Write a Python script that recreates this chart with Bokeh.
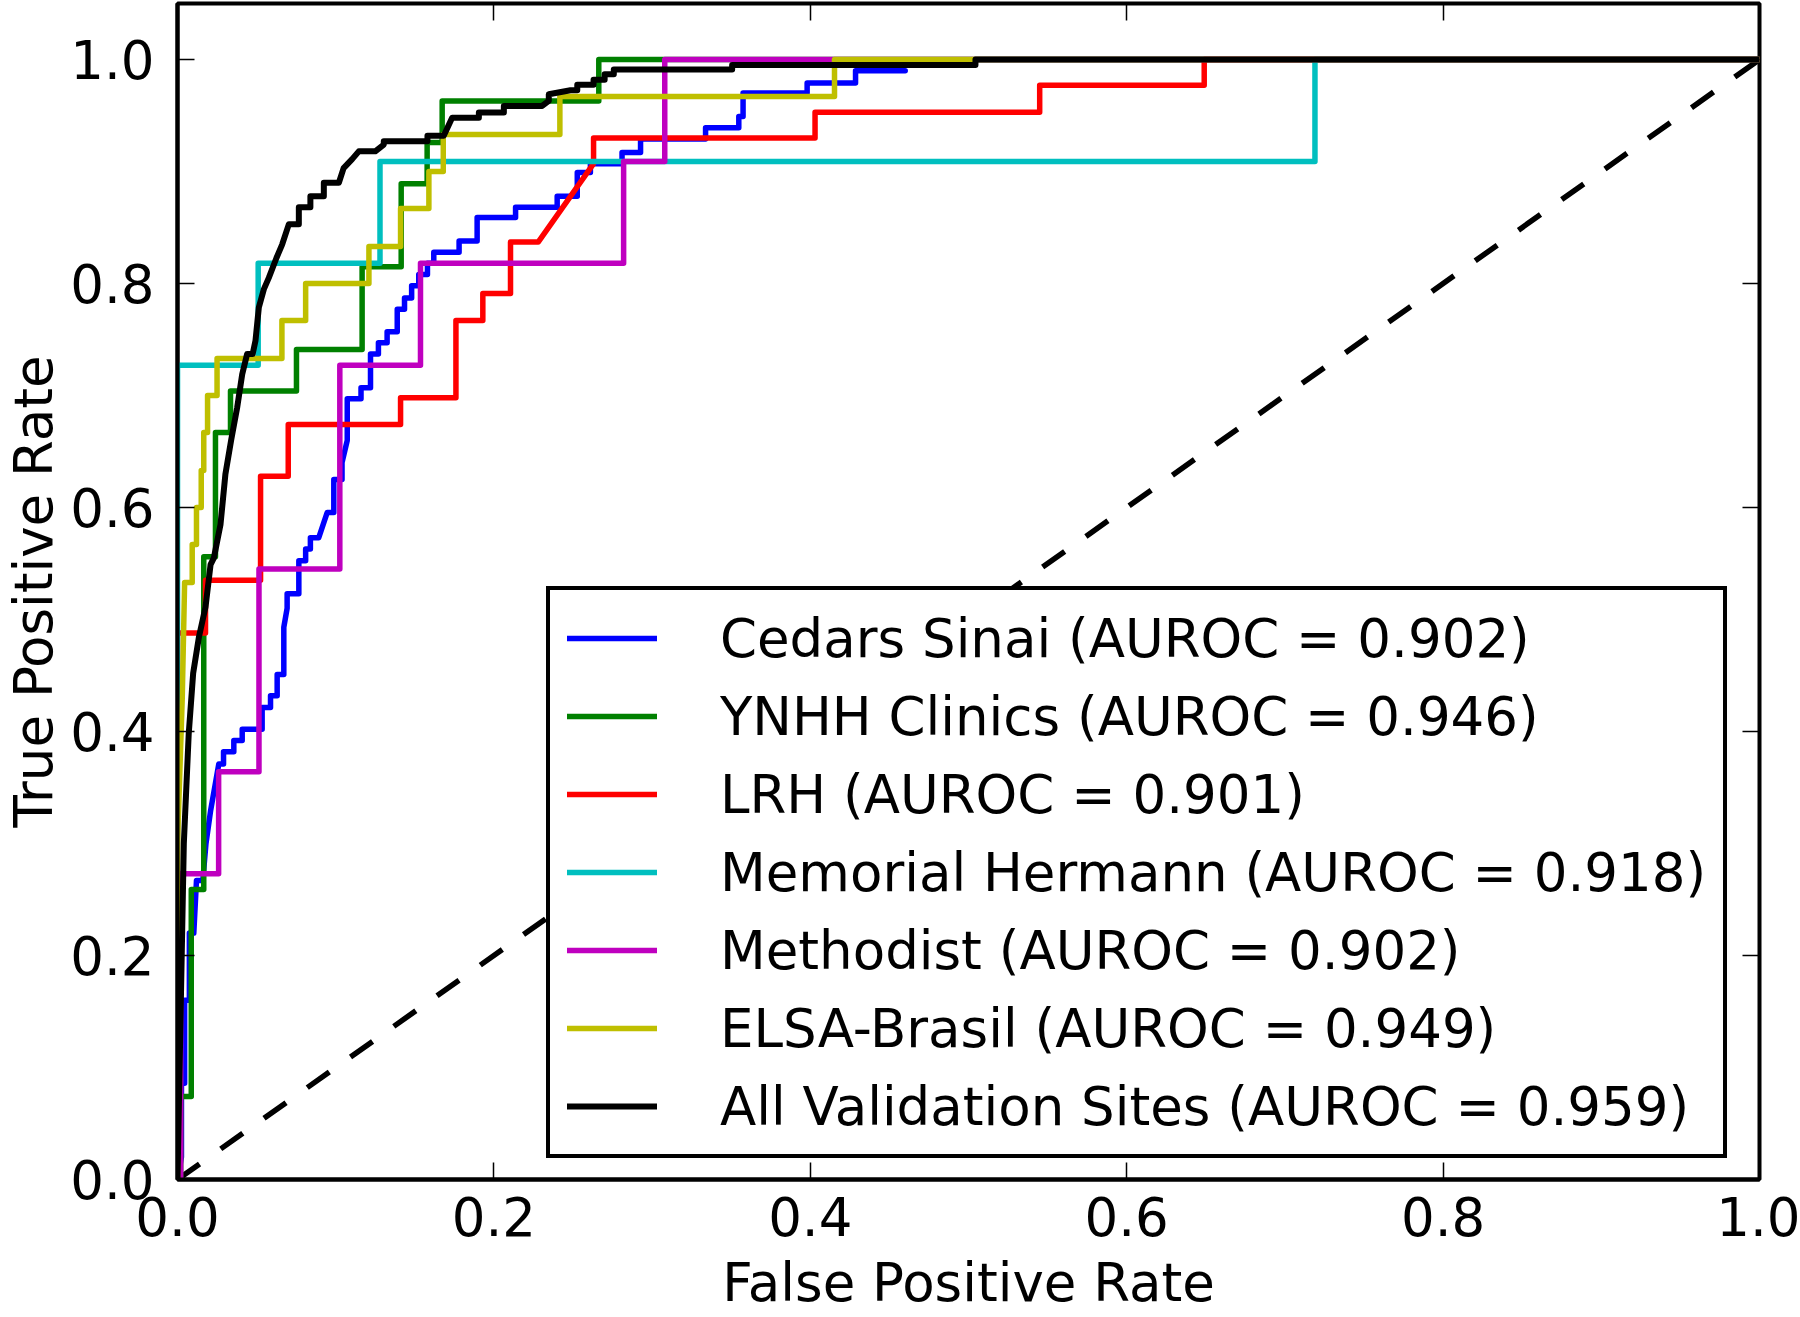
from bokeh.plotting import figure
from bokeh.models import Range1d, LinearAxis, FixedTicker, Legend, LegendItem, PrintfTickFormatter
from bokeh.embed import file_html
from bokeh.resources import INLINE

# ---------------- data ----------------
site_names = ["Cedars Sinai", "YNHH Clinics", "LRH", "Memorial Hermann",
              "Methodist", "ELSA-Brasil", "All Validation Sites"]
site_auroc = [0.902, 0.946, 0.901, 0.918, 0.902, 0.949, 0.959]

cedars_fpr = [0, 0.0025, 0.0025, 0.0045, 0.0045, 0.0075, 0.0075, 0.0103, 0.012, 0.016, 0.018, 0.021,
              0.0235, 0.0261, 0.0291, 0.0291, 0.0356, 0.0356, 0.0409, 0.0409, 0.0535, 0.0535, 0.0588,
              0.0588, 0.063, 0.063, 0.0672, 0.0672, 0.0693, 0.0693, 0.0767, 0.0767, 0.081, 0.081, 0.084,
              0.084, 0.0893, 0.0946, 0.0988, 0.0988, 0.104, 0.104, 0.1073, 0.1073, 0.116, 0.116, 0.122,
              0.122, 0.127, 0.127, 0.1325, 0.1325, 0.1389, 0.1389, 0.1435, 0.1435, 0.148, 0.148, 0.1525,
              0.1525, 0.158, 0.158, 0.162, 0.162, 0.178, 0.178, 0.1894, 0.1894, 0.2137, 0.2137, 0.24,
              0.24, 0.2527, 0.2527, 0.261, 0.261, 0.281, 0.281, 0.2927, 0.2927, 0.3338, 0.3338, 0.3548,
              0.3548, 0.3575, 0.3575, 0.398, 0.398, 0.4286, 0.4286, 0.46]
cedars_tpr = [0, 0.02, 0.086, 0.086, 0.16, 0.16, 0.22, 0.22, 0.267, 0.267, 0.30, 0.33,
              0.35, 0.371, 0.371, 0.382, 0.382, 0.392, 0.392, 0.402, 0.402, 0.4215, 0.4215,
              0.432, 0.432, 0.451, 0.451, 0.493, 0.51, 0.523, 0.523, 0.5524, 0.5524, 0.563, 0.563,
              0.573, 0.573, 0.5955, 0.5955, 0.625, 0.625, 0.64, 0.66, 0.697, 0.697, 0.707, 0.707,
              0.737, 0.737, 0.747, 0.747, 0.757, 0.757, 0.777, 0.777, 0.787, 0.787, 0.798, 0.798,
              0.808, 0.808, 0.818, 0.818, 0.828, 0.828, 0.838, 0.838, 0.859, 0.859, 0.868, 0.868,
              0.878, 0.878, 0.899, 0.899, 0.907, 0.907, 0.917, 0.917, 0.929, 0.929, 0.939, 0.939,
              0.949, 0.949, 0.970, 0.970, 0.979, 0.979, 0.99, 0.99]

ynhh_fpr = [0, 0.002, 0.002, 0.0087, 0.0087, 0.0166, 0.0166, 0.024, 0.024, 0.0335, 0.0335, 0.0752,
            0.0752, 0.1167, 0.1167, 0.1414, 0.1414, 0.1578, 0.1578, 0.1673, 0.1673, 0.2663, 0.2663, 1.0]
ynhh_tpr = [0, 0, 0.074, 0.074, 0.259, 0.259, 0.556, 0.556, 0.667, 0.667, 0.704, 0.704,
            0.741, 0.741, 0.815, 0.815, 0.889, 0.889, 0.926, 0.926, 0.963, 0.963, 1.0, 1.0]

lrh_fpr = [0, 0, 0.0177, 0.0177, 0.0525, 0.0525, 0.0700, 0.0700, 0.141, 0.141, 0.176, 0.176, 0.193,
           0.193, 0.2105, 0.2105, 0.228, 0.263, 0.263, 0.403, 0.403, 0.545, 0.545, 0.649, 0.649, 1.0]
lrh_tpr = [0, 0.488, 0.488, 0.535, 0.535, 0.628, 0.628, 0.674, 0.674, 0.698, 0.698, 0.767, 0.767,
           0.791, 0.791, 0.837, 0.837, 0.907, 0.930, 0.930, 0.953, 0.953, 0.977, 0.977, 1.0, 1.0]

memorial_fpr = [0, 0, 0.051, 0.051, 0.128, 0.128, 0.719, 0.719, 1.0]
memorial_tpr = [0, 0.727, 0.727, 0.818, 0.818, 0.909, 0.909, 1.0, 1.0]

methodist_fpr = [0, 0.002, 0.002, 0.026, 0.026, 0.0515, 0.0515, 0.1026, 0.1026, 0.1536, 0.1536,
                 0.282, 0.282, 0.308, 0.308, 1.0]
methodist_tpr = [0, 0, 0.273, 0.273, 0.364, 0.364, 0.545, 0.545, 0.727, 0.727, 0.818,
                 0.818, 0.909, 0.909, 1.0, 1.0]

elsa_fpr = [0, 0, 0.003, 0.0045, 0.0093, 0.0093, 0.012, 0.012, 0.015, 0.015, 0.0166, 0.0166, 0.019,
            0.019, 0.025, 0.025, 0.066, 0.066, 0.081, 0.081, 0.121, 0.121, 0.141, 0.141, 0.1589,
            0.1589, 0.168, 0.168, 0.2417, 0.2417, 0.4153, 0.4153, 1.0]
elsa_tpr = [0, 0.3, 0.43, 0.533, 0.533, 0.567, 0.567, 0.6, 0.6, 0.633, 0.633, 0.667, 0.667,
            0.7, 0.7, 0.733, 0.733, 0.767, 0.767, 0.8, 0.8, 0.833, 0.833, 0.867, 0.867,
            0.9, 0.9, 0.933, 0.933, 0.967, 0.967, 1.0, 1.0]

all_fpr = [0, 0.002, 0.004, 0.0071, 0.0099, 0.0135, 0.0177, 0.0209, 0.023, 0.0272, 0.0303, 0.0339,
           0.0377, 0.0409, 0.044, 0.0475, 0.0493, 0.0514, 0.0546, 0.0577, 0.0626, 0.0662, 0.0704,
           0.0767, 0.0767, 0.084, 0.084, 0.0925, 0.0925, 0.102, 0.105, 0.1104, 0.1146, 0.125,
           0.1304, 0.1304, 0.158, 0.158, 0.1683, 0.1736, 0.1905, 0.1905, 0.2063, 0.2063, 0.2305,
           0.2347, 0.2347, 0.2484, 0.2527, 0.2527, 0.263, 0.263, 0.27, 0.27, 0.2758, 0.2758,
           0.3506, 0.3506, 0.5044, 0.5044, 1.0]
all_tpr = [0, 0.15, 0.30, 0.398, 0.452, 0.484, 0.511, 0.549, 0.555, 0.585, 0.63, 0.66,
           0.689, 0.719, 0.737, 0.737, 0.749, 0.7785, 0.795, 0.805, 0.823, 0.835, 0.853,
           0.853, 0.868, 0.868, 0.878, 0.878, 0.89, 0.89, 0.903, 0.911, 0.918, 0.918,
           0.924, 0.927, 0.927, 0.932, 0.932, 0.948, 0.948, 0.9526, 0.9526, 0.9585, 0.9585,
           0.963, 0.969, 0.9725, 0.9725, 0.9775, 0.9775, 0.982, 0.982, 0.9868, 0.9868, 0.991,
           0.991, 0.995, 0.995, 1.0, 1.0]

chance_x = [0.0, 1.0]
chance_y = [0.0, 1.0]

x_ticks = [0.0, 0.2, 0.4, 0.6, 0.8, 1.0]
y_ticks = [0.0, 0.2, 0.4, 0.6, 0.8, 1.0]

series_fpr = [cedars_fpr, ynhh_fpr, lrh_fpr, memorial_fpr, methodist_fpr, elsa_fpr, all_fpr]
series_tpr = [cedars_tpr, ynhh_tpr, lrh_tpr, memorial_tpr, methodist_tpr, elsa_tpr, all_tpr]
colors = ["#0000ff", "#008000", "#ff0000", "#00bfbf", "#bf00bf", "#bfbf00", "#000000"]
widths = [5.5, 5.5, 5.5, 5.5, 5.5, 5.5, 6.0]

# ---------------- figure ----------------
FONT = "DejaVu Sans"
FS = "53px"

p = figure(width=1800, height=1317, output_backend="svg", toolbar_location=None,
           x_range=Range1d(0, 1), y_range=Range1d(0, 1.05),
           x_axis_label="False Positive Rate", y_axis_label="True Positive Rate")
p.min_border_left = 177
p.min_border_right = 41
p.min_border_top = 3
p.min_border_bottom = 138
p.background_fill_color = "white"
p.border_fill_color = "white"
p.outline_line_color = "black"
p.outline_line_width = 4
p.outline_line_alpha = 1.0
p.xgrid.visible = False
p.ygrid.visible = False

for ax, ticks in ((p.xaxis[0], x_ticks), (p.yaxis[0], y_ticks)):
    ax.ticker = FixedTicker(ticks=ticks)
    ax.formatter = PrintfTickFormatter(format="%.1f")
    ax.major_tick_in = 17
    ax.major_tick_out = 0
    ax.minor_tick_line_color = None
    ax.major_tick_line_width = 1.5
    ax.axis_line_width = 4
    ax.major_label_text_font = FONT
    ax.major_label_text_font_size = FS
    ax.major_label_text_color = "black"
    ax.axis_label_text_font = FONT
    ax.axis_label_text_font_size = FS
    ax.axis_label_text_font_style = "normal"
    ax.axis_label_text_color = "black"

p.xaxis[0].major_label_standoff = 17
p.xaxis[0].axis_label_standoff = 13
p.yaxis[0].major_label_standoff = 23
p.yaxis[0].axis_label_standoff = 3

# mirrored inward ticks on the top and right spines
top_axis = LinearAxis(ticker=FixedTicker(ticks=x_ticks), major_tick_in=17, major_tick_out=0,
                      major_tick_line_width=1.5, minor_tick_line_color=None,
                      major_label_text_font_size="1px", major_label_text_color=None,
                      major_label_standoff=0, axis_line_color=None)
right_axis = LinearAxis(ticker=FixedTicker(ticks=y_ticks), major_tick_in=17, major_tick_out=0,
                        major_tick_line_width=1.5, minor_tick_line_color=None,
                        major_label_text_font_size="1px", major_label_text_color=None,
                        major_label_standoff=0, axis_line_color=None)
p.add_layout(top_axis, "above")
p.add_layout(right_axis, "right")

p.line(chance_x, chance_y, line_color="black", line_width=5.5, line_dash="27 26")

items = []
for name, auc, fx, ty, col, lw in zip(site_names, site_auroc, series_fpr, series_tpr, colors, widths):
    r = p.line(fx, ty, line_color=col, line_width=lw, line_join="round", line_cap="round")
    items.append(LegendItem(label="%s (AUROC = %.3f)" % (name, auc), renderers=[r]))

legend = Legend(items=items, location=(369, 21))
legend.label_text_font = FONT
legend.label_text_font_size = FS
legend.label_text_color = "black"
legend.glyph_width = 90
legend.glyph_height = 62
legend.label_height = 62
legend.label_standoff = 63
legend.spacing = 16
legend.padding = 17
legend.margin = 0
legend.border_line_color = "black"
legend.border_line_width = 4
legend.border_line_alpha = 1.0
legend.background_fill_color = "white"
legend.background_fill_alpha = 1.0
p.add_layout(legend, "center")

open("out.html", "w").write(file_html(p, INLINE))
